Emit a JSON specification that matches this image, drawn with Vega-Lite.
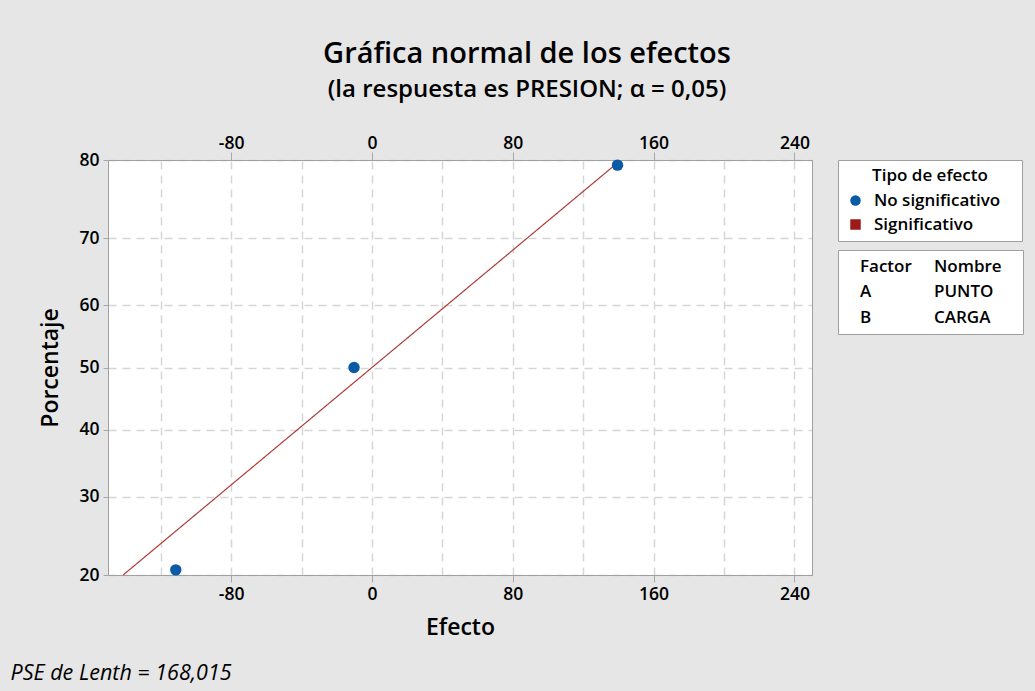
{
  "$schema": "https://vega.github.io/schema/vega-lite/v6.json",
  "width": 704,
  "height": 415,
  "autosize": {"type": "none"},
  "padding": {"left": 108, "top": 160, "right": 223, "bottom": 116},
  "background": "#e6e6e6",
  "title": {
    "text": "Gráfica normal de los efectos",
    "subtitle": "(la respuesta es PRESION; α = 0,05)",
    "anchor": "middle",
    "frame": "group",
    "dx": 67,
    "offset": 32,
    "font": "Open Sans",
    "fontSize": 29,
    "fontWeight": 600,
    "color": "#000000",
    "subtitleFont": "Open Sans",
    "subtitleFontSize": 24,
    "subtitleFontWeight": 600,
    "subtitleColor": "#000000",
    "subtitlePadding": 9
  },
  "datasets": {
    "puntos": [
      {"efecto": -111.5, "porcentaje": 20.59, "tipo": "No significativo"},
      {"efecto": -10.2, "porcentaje": 50, "tipo": "No significativo"},
      {"efecto": 139.5, "porcentaje": 79.41, "tipo": "No significativo"}
    ],
    "linea": [
      {"efecto": -141.4, "porcentaje": 20, "nota": "PSE de Lenth = 168,015"},
      {"efecto": 137.9, "porcentaje": 79.41, "nota": "PSE de Lenth = 168,015"}
    ],
    "tabla": [
      {"celda": "Factor"},
      {"celda": "Nombre"},
      {"celda": "A"},
      {"celda": "PUNTO"},
      {"celda": "B"},
      {"celda": "CARGA"}
    ]
  },
  "config": {
    "view": {"fill": "#ffffff", "stroke": "#a0a0a0", "strokeWidth": 1},
    "font": "Open Sans",
    "axis": {
      "labelFont": "Open Sans",
      "labelFontSize": 17.5,
      "labelFontWeight": 600,
      "labelColor": "#000000",
      "tickColor": "#a8a8a8",
      "domain": true,
      "domainColor": "#a0a0a0",
      "domainWidth": 1,
      "titleFont": "Open Sans",
      "titleFontSize": 23,
      "titleFontWeight": 600,
      "titleColor": "#000000",
      "gridColor": "#d6d6d6",
      "gridDash": [8, 6],
      "gridWidth": 1.5
    },
    "legend": {
      "labelFont": "Open Sans",
      "labelFontSize": 17,
      "labelFontWeight": 600,
      "labelColor": "#000000",
      "titleFont": "Open Sans",
      "titleFontSize": 17,
      "titleFontWeight": 600,
      "titleColor": "#000000"
    }
  },
  "layer": [
    {
      "data": {"name": "linea"},
      "transform": [{"calculate": "quantileNormal(datum.porcentaje / 100)", "as": "z"}],
      "mark": {"type": "line", "color": "#b03a3a", "strokeWidth": 1.2},
      "encoding": {
        "x": {
          "field": "efecto",
          "type": "quantitative",
          "scale": {"domain": [-150, 250], "nice": false, "zero": false},
          "axis": {
            "orient": "bottom",
            "title": "Efecto",
            "values": [-80, 0, 50, 80, 160, 240],
            "grid": true,
            "gridColor": "#ffffff",
            "gridDash": [],
            "gridWidth": 704,
            "gridOpacity": {"condition": {"test": "datum.value === 50", "value": 1}, "value": 0},
            "labelExpr": "datum.value % 80 === 0 ? '' + datum.value : ''",
            "tickSize": 7,
            "tickOpacity": {"condition": {"test": "datum.value % 80 === 0", "value": 1}, "value": 0},
            "labelPadding": 3,
            "titlePadding": 14
          }
        },
        "y": {
          "field": "z",
          "type": "quantitative",
          "scale": {"domain": [-0.841621, 0.841621], "nice": false, "zero": false},
          "axis": {
            "orient": "left",
            "title": "Porcentaje",
            "values": [-0.841621, -0.524401, -0.253347, 0, 0.253347, 0.524401, 0.841621],
            "labelExpr": "format(cumulativeNormal(datum.value) * 100, '.0f')",
            "grid": true,
            "tickSize": 5,
            "labelPadding": 4,
            "titlePadding": 16
          }
        },
        "strokeDash": {
          "field": "nota",
          "type": "nominal",
          "scale": {"range": [[1, 0]]},
          "legend": {
            "title": null,
            "orient": "none",
            "legendX": -119,
            "legendY": 503,
            "symbolOpacity": 0,
            "symbolSize": 0,
            "symbolStrokeWidth": 0,
            "labelOffset": 0,
            "padding": 0,
            "labelFontStyle": "italic",
            "labelFontWeight": 400,
            "labelFontSize": 21.5,
            "labelLimit": 400
          }
        }
      }
    },
    {
      "data": {"name": "puntos"},
      "transform": [{"calculate": "quantileNormal(datum.porcentaje / 100)", "as": "z"}],
      "mark": {"type": "point", "filled": true, "size": 130, "opacity": 1},
      "encoding": {
        "x": {
          "field": "efecto",
          "type": "quantitative",
          "axis": {
            "orient": "top",
            "title": null,
            "values": [-120, -80, -40, 0, 40, 80, 120, 160, 200, 240],
            "labelExpr": "datum.value % 80 === 0 ? '' + datum.value : ''",
            "grid": true,
            "tickSize": 8,
            "tickOpacity": {"condition": {"test": "datum.value % 80 === 0", "value": 1}, "value": 0},
            "labelPadding": 0
          }
        },
        "y": {
          "field": "z",
          "type": "quantitative",
          "axis": {
            "orient": "right",
            "title": null,
            "labels": false,
            "ticks": false,
            "grid": false
          }
        },
        "color": {
          "field": "tipo",
          "type": "nominal",
          "scale": {"domain": ["No significativo", "Significativo"], "range": ["#0b5aa6", "#9c1a1a"]},
          "legend": {
            "title": "Tipo de efecto",
            "orient": "none",
            "legendX": 730,
            "legendY": 0,
            "fillColor": "white",
            "strokeColor": "#a0a0a0",
            "padding": 8,
            "titleAnchor": "middle",
            "symbolSize": 110,
            "symbolOffset": 1,
            "labelOffset": 10,
            "rowPadding": 6,
            "titlePadding": 7,
            "labelExpr": "datum.label === 'No significativo' ? datum.label + '\u00a0\u00a0\u00a0\u200b' : datum.label"
          }
        },
        "shape": {
          "field": "tipo",
          "type": "nominal",
          "scale": {"domain": ["No significativo", "Significativo"], "range": ["circle", "square"]},
          "legend": {
            "title": "Tipo de efecto",
            "orient": "none",
            "legendX": 730,
            "legendY": 0,
            "fillColor": "white",
            "strokeColor": "#a0a0a0",
            "padding": 8,
            "titleAnchor": "middle",
            "symbolSize": 110,
            "symbolOffset": 1,
            "labelOffset": 10,
            "rowPadding": 6,
            "titlePadding": 7,
            "labelExpr": "datum.label === 'No significativo' ? datum.label + '\u00a0\u00a0\u00a0\u200b' : datum.label"
          }
        }
      }
    },
    {
      "data": {"name": "tabla"},
      "mark": {"type": "point", "filled": true, "opacity": 0},
      "encoding": {
        "fill": {
          "field": "celda",
          "type": "nominal",
          "scale": {"domain": ["Factor", "Nombre", "A", "PUNTO", "B", "CARGA"], "range": ["white", "white", "white", "white", "white", "white"]},
          "legend": {
            "title": null,
            "orient": "none",
            "direction": "horizontal",
            "legendX": 730,
            "legendY": 90,
            "columns": 2,
            "columnPadding": 8,
            "rowPadding": 7.5,
            "symbolOpacity": 0,
            "symbolStrokeWidth": 0,
            "labelOffset": -3,
            "padding": 8,
            "fillColor": "white",
            "strokeColor": "#a0a0a0",
            "labelExpr": "datum.label === 'Nombre' ? 'Nombre\u00a0\u00a0\u00a0\u200b' : datum.label"
          }
        }
      }
    }
  ],
  "resolve": {"axis": {"x": "independent", "y": "independent"}}
}
